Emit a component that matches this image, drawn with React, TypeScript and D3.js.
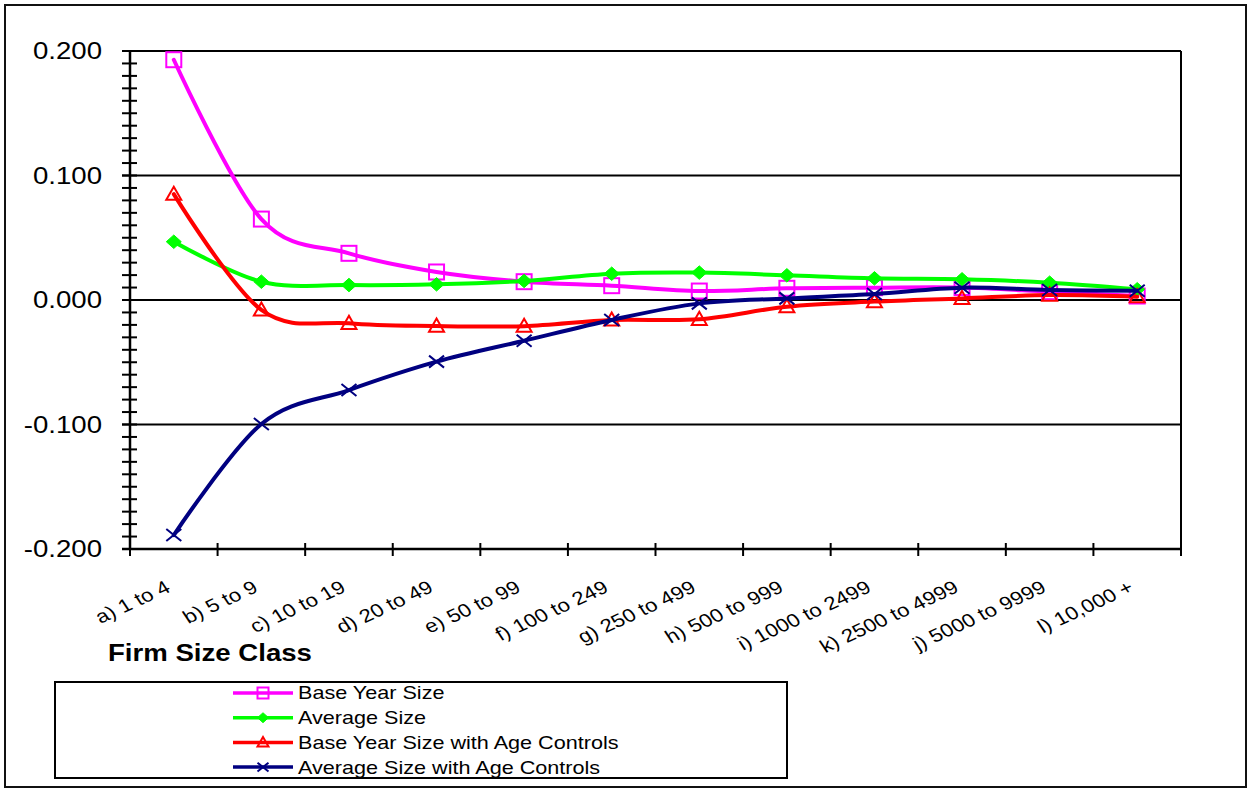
import React from "react";
import * as d3 from "d3";

const categories = [
  "a) 1 to 4", "b) 5 to 9", "c) 10 to 19", "d) 20 to 49", "e) 50 to 99",
  "f) 100 to 249", "g) 250 to 499", "h) 500 to 999", "i) 1000 to 2499",
  "k) 2500 to 4999", "j) 5000 to 9999", "l) 10,000 +",
];
const baseYearSize = [0.193, 0.065, 0.0375, 0.0225, 0.0147, 0.0115, 0.0072, 0.0094, 0.0099, 0.0100, 0.0067, 0.0032];
const averageSize = [0.0468, 0.0147, 0.012, 0.0126, 0.0153, 0.0211, 0.022, 0.0198, 0.0174, 0.0166, 0.0139, 0.0086];
const baseYearAge = [0.085, -0.008, -0.0187, -0.0209, -0.021, -0.016, -0.0155, -0.0054, -0.0013, 0.0013, 0.004, 0.0027];
const averageAge = [-0.1888, -0.0996, -0.0723, -0.0495, -0.0327, -0.016, -0.0027, 0.0013, 0.0048, 0.0099, 0.008, 0.0075];
const yTicks = [0.2, 0.1, 0.0, -0.1, -0.2];
const xTitle = "Firm Size Class";

const series = [
  { name: "Base Year Size", values: baseYearSize, color: "#FF00FF", marker: "square" },
  { name: "Average Size", values: averageSize, color: "#00FF00", marker: "diamond" },
  { name: "Base Year Size with Age Controls", values: baseYearAge, color: "#FF0000", marker: "triangle" },
  { name: "Average Size with Age Controls", values: averageAge, color: "#000080", marker: "x" },
];

const W = 1251, H = 790;
const plot = { left: 130, right: 1181, top: 51, bottom: 549 };
const SX = 1.2;
const FONT = "'Liberation Sans', Arial, Helvetica, sans-serif";

const fmt = (t: number) => d3.format(".3f")(t).replace("\u2212", "-");

function Marker({ type, x, y, color, s }: { type: string; x: number; y: number; color: string; s: number }) {
  if (type === "square") {
    return <rect x={x - s / 2} y={y - s / 2} width={s} height={s} fill="none" stroke={color} strokeWidth={2} />;
  }
  if (type === "diamond") {
    const h = s / 2;
    return <path d={`M${x},${y - h * 0.9} L${x + h},${y} L${x},${y + h * 0.9} L${x - h},${y} Z`} fill={color} stroke={color} strokeWidth={1} />;
  }
  if (type === "triangle") {
    const h = s / 2;
    return <path d={`M${x},${y - h} L${x + h},${y + h * 0.75} L${x - h},${y + h * 0.75} Z`} fill="none" stroke={color} strokeWidth={2} />;
  }
  const h = s / 2;
  return <path d={`M${x - h},${y - h * 0.8} L${x + h},${y + h * 0.8} M${x - h},${y + h * 0.8} L${x + h},${y - h * 0.8}`} stroke={color} strokeWidth={2} fill="none" />;
}

export default function App() {
  const x = d3.scaleBand<string>().domain(categories).range([plot.left, plot.right]).padding(0);
  const y = d3.scaleLinear().domain([-0.2, 0.2]).range([plot.bottom, plot.top]);
  const cx = (c: string) => (x(c) as number) + x.bandwidth() / 2;
  const line = d3.line<number>()
    .x((_, i) => cx(categories[i]))
    .y((v) => y(v))
    .curve(d3.curveCardinal.tension(0));
  const minor = d3.range(-20, 21).map((k) => k / 100);
  const bounds = d3.range(categories.length + 1).map((i) => plot.left + i * x.bandwidth());

  return (
    <div style={{ position: "fixed", left: 0, top: 0 }}>
      <svg width={W} height={H} style={{ display: "block", background: "#fff" }} fontFamily={FONT}>
        <rect x={5} y={5} width={1241} height={782} fill="#fff" stroke="#111" strokeWidth={2} />
        {yTicks.map((t) => (
          <line key={"g" + t} x1={122} x2={plot.right} y1={y(t)} y2={y(t)} stroke="#000" strokeWidth={2} />
        ))}
        {minor.map((t) => (
          <line key={"m" + t} x1={122} x2={137} y1={y(t)} y2={y(t)} stroke="#000" strokeWidth={2} />
        ))}
        <line x1={plot.left} x2={plot.left} y1={plot.top} y2={plot.bottom + 1} stroke="#000" strokeWidth={2.5} />
        <line x1={plot.right} x2={plot.right} y1={plot.top} y2={plot.bottom} stroke="#000" strokeWidth={2} />
        <line x1={122} x2={plot.right + 1} y1={plot.bottom} y2={plot.bottom} stroke="#000" strokeWidth={2.5} />
        {bounds.map((b, i) => (
          <line key={"xt" + i} x1={b} x2={b} y1={543} y2={556} stroke="#000" strokeWidth={2} />
        ))}
        {yTicks.map((t) => (
          <text key={"yl" + t} transform={`translate(102,${y(t)}) scale(${SX},1)`} textAnchor="end" dy="0.36em" fontSize={23} fill="#000">
            {fmt(t)}
          </text>
        ))}
        {categories.map((c) => (
          <text key={"xl" + c} transform={`translate(${cx(c) - 2},591) scale(${SX},1) rotate(-29)`} textAnchor="end" fontSize={18.5} fill="#000">
            {c}
          </text>
        ))}
        <text transform={`translate(108,661) scale(${SX},1)`} fontSize={23} fontWeight="bold" fill="#000">{xTitle}</text>
        {series.map((s) => (
          <g key={s.name}>
            <path d={line(s.values) as string} fill="none" stroke={s.color} strokeWidth={4} strokeLinejoin="round" strokeLinecap="round" />
            {s.values.map((v, i) => (
              <Marker key={i} type={s.marker} x={cx(categories[i])} y={y(v)} color={s.color} s={15} />
            ))}
          </g>
        ))}
        <rect x={55} y={682} width={732} height={96} fill="#fff" stroke="#000" strokeWidth={2} />
        {series.map((s, i) => {
          const ly = 693 + i * 24.7;
          return (
            <g key={"lg" + s.name}>
              <line x1={233} x2={293} y1={ly} y2={ly} stroke={s.color} strokeWidth={3.5} />
              <Marker type={s.marker} x={263} y={ly} color={s.color} s={11} />
              <text transform={`translate(298,${ly}) scale(${SX},1)`} dy="0.36em" fontSize={18} fill="#000">{s.name}</text>
            </g>
          );
        })}
      </svg>
    </div>
  );
}
